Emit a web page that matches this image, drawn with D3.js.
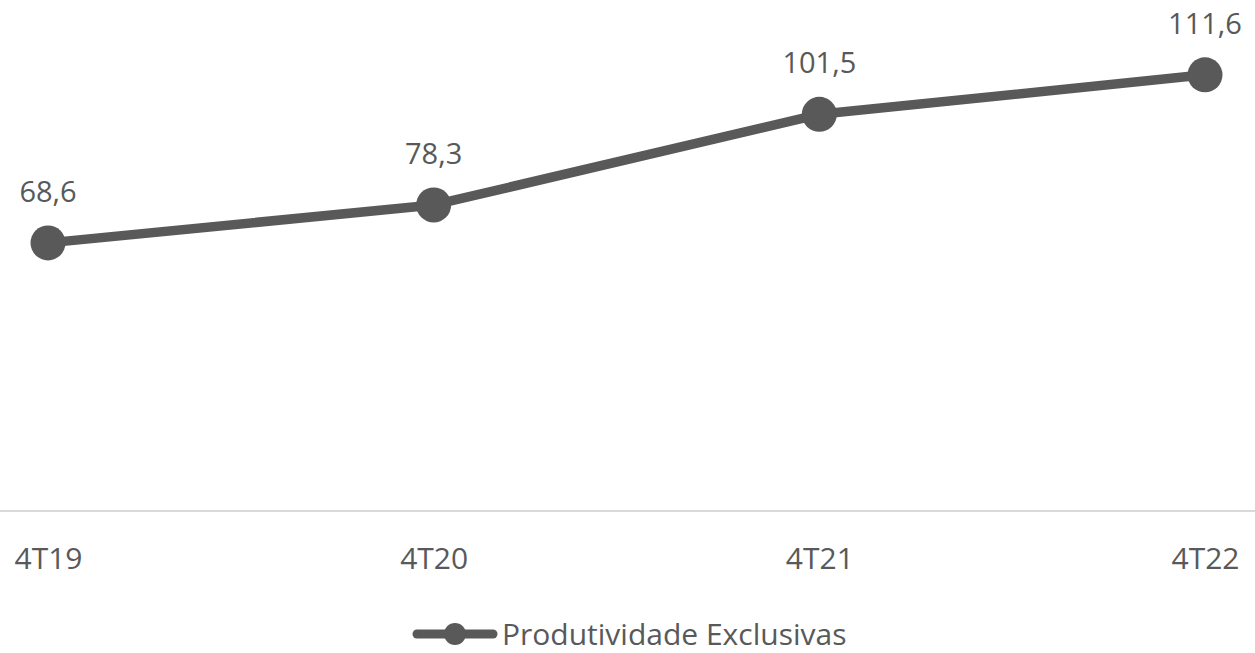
<!DOCTYPE html>
<html><head><meta charset="utf-8">
<script src="https://cdn.jsdelivr.net/npm/d3@7"></script>
<style>body{margin:0;background:#fff}svg{display:block}text{font-family:"Open Sans","Noto Sans",sans-serif;fill:#595959}</style>
</head><body><svg id="c" width="1255" height="653"></svg>
<script>
const categories = ["4T19","4T20","4T21","4T22"];
const values = [68.6, 78.3, 101.5, 111.6];
const labels = ["68,6","78,3","101,5","111,6"];
const seriesName = "Produtividade Exclusivas";

const svg = d3.select("#c");
const x = d3.scalePoint().domain(categories).range([48, 1205]);
const y = d3.scaleLinear().domain([0, 120]).range([511, 42]);
const col = "#595959";

svg.append("line").attr("x1",0).attr("x2",1255).attr("y1",y(0)).attr("y2",y(0))
  .attr("stroke","#d9d9d9").attr("stroke-width",2);

const data = categories.map((c,i)=>({c, v: values[i], l: labels[i]}));
svg.append("path").datum(data)
  .attr("d", d3.line().x(d=>x(d.c)).y(d=>y(d.v)))
  .attr("fill","none").attr("stroke",col).attr("stroke-width",9.5).attr("stroke-linejoin","round");
svg.selectAll("circle.m").data(data).join("circle").attr("class","m")
  .attr("cx",d=>x(d.c)).attr("cy",d=>y(d.v)).attr("r",17.5).attr("fill",col);
svg.selectAll("text.lab").data(data).join("text").attr("class","lab")
  .attr("x",d=>x(d.c)).attr("y",d=>y(d.v)-41).attr("text-anchor","middle")
  .attr("font-size",29).text(d=>d.l);

const ax = svg.append("g").attr("transform",`translate(0,${y(0)})`)
  .call(d3.axisBottom(x).tickSize(0).tickPadding(0));
ax.select(".domain").remove();
ax.selectAll("text").attr("dy",null).attr("y",58).attr("font-size",30)
  .style("font-family",'"Open Sans","Noto Sans",sans-serif').attr("fill",col);

const lg = svg.append("g");
lg.append("line").attr("x1",417).attr("x2",493).attr("y1",634).attr("y2",634)
  .attr("stroke",col).attr("stroke-width",9).attr("stroke-linecap","round");
lg.append("circle").attr("cx",455).attr("cy",634).attr("r",11).attr("fill",col);
lg.append("text").attr("x",502).attr("y",645).attr("font-size",30).text(seriesName);
</script></body></html>
